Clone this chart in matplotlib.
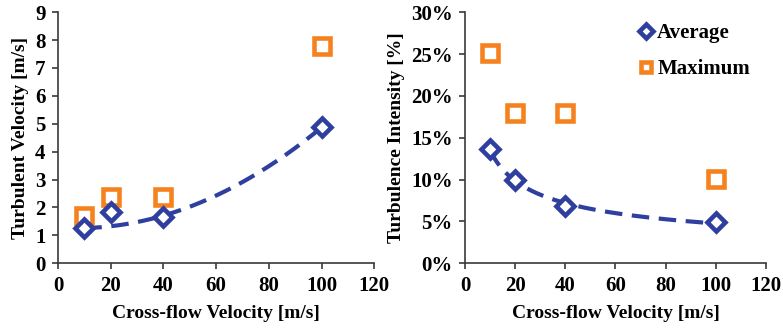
import numpy as np
import matplotlib
matplotlib.use('Agg')
import matplotlib.pyplot as plt
from matplotlib.ticker import PercentFormatter

# Data
cross_flow = [10, 20, 40, 100]
tv_average = [1.25, 1.85, 1.65, 4.87]
tv_maximum = [1.70, 2.38, 2.38, 7.78]
ti_average = [13.7, 9.9, 6.8, 4.9]
ti_maximum = [25.1, 18.0, 18.0, 10.1]

# dashed trendline of the left panel (2nd order poly)
tv_trend_x = [10, 20, 40, 60, 80, 100]
tv_trend_y = [1.27, 1.33, 1.66, 2.45, 3.50, 4.85]

blue = '#2F3F9F'
orange = '#F5821F'
axis_col = '#3a3a3a'

plt.rcParams['font.family'] = ['Liberation Serif', 'DejaVu Serif']
plt.rcParams['font.weight'] = 'bold'
plt.rcParams['axes.labelweight'] = 'bold'

fig = plt.figure(figsize=(7.83, 3.29), dpi=100)
ax1 = fig.add_axes([0.074, 0.200, 0.404, 0.763])
ax2 = fig.add_axes([0.594, 0.200, 0.384, 0.763])

x = np.array(cross_flow, dtype=float)
xs = np.linspace(10, 100, 200)
dash = (0, (4.2, 2.3))

# left: turbulent velocity
coef = np.polyfit(tv_trend_x, tv_trend_y, 2)
ax1.plot(xs, np.polyval(coef, xs), color=blue, lw=3, ls=dash, zorder=2)
ax1.plot(x, tv_maximum, ls='none', marker='s', ms=11, mew=3.3, mfc='white', mec=orange, zorder=3)
ax1.plot(x, tv_average, ls='none', marker='D', ms=9.5, mew=3.3, mfc='white', mec=blue, zorder=4)
ax1.set_xlim(0, 120)
ax1.set_ylim(0, 9)
ax1.set_yticks(range(0, 10))
ax1.set_ylabel('Turbulent Velocity [m/s]', fontsize=14)

# right: turbulence intensity, power trend
b, a = np.polyfit(np.log(x), np.log(ti_average), 1)
ax2.plot(xs, np.exp(a) * xs ** b, color=blue, lw=3, ls=dash, zorder=2)
ax2.plot(x, ti_average, ls='none', marker='D', ms=9.5, mew=3.3, mfc='white', mec=blue, zorder=4,
         label='Average')
ax2.plot(x, ti_maximum, ls='none', marker='s', ms=11, mew=3.3, mfc='white', mec=orange, zorder=3,
         label='Maximum')
ax2.set_xlim(0, 120)
ax2.set_ylim(0, 30)
ax2.set_yticks(range(0, 31, 5))
ax2.yaxis.set_major_formatter(PercentFormatter(decimals=0))
ax2.set_ylabel('Turbulence Intensity [%]', fontsize=14)
leg = ax2.legend(loc='upper right', bbox_to_anchor=(1.01, 1.03), frameon=False, fontsize=15,
                 handletextpad=0.0, labelspacing=0.75, markerscale=0.7, handlelength=1.1)

for ax in (ax1, ax2):
    ax.set_xticks(range(0, 121, 20))
    ax.set_xlabel('Cross-flow Velocity [m/s]', fontsize=14, labelpad=7)
    ax.spines['top'].set_visible(False)
    ax.spines['right'].set_visible(False)
    for s in ('left', 'bottom'):
        ax.spines[s].set_color(axis_col)
        ax.spines[s].set_linewidth(1.2)
    ax.tick_params(direction='out', length=4, width=1.2, color=axis_col, labelsize=15, pad=5)
    for lab in ax.get_xticklabels() + ax.get_yticklabels():
        lab.set_fontweight('bold')

fig.savefig('out.png', dpi=100)
